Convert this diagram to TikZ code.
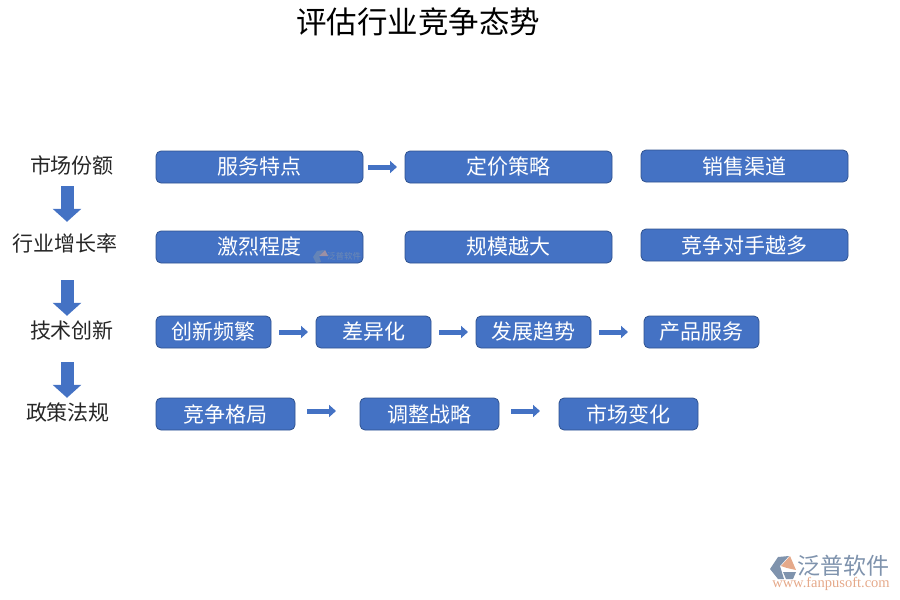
\documentclass[tikz,border=0pt]{standalone}
\usepackage{fontspec}
\setmainfont{Noto Sans CJK SC}
\newfontfamily\latinserif{Liberation Serif}
\usetikzlibrary{arrows.meta,positioning}
\definecolor{boxblue}{HTML}{4472C4}
\definecolor{boxedge}{HTML}{2F528F}
\definecolor{logogray}{HTML}{7F93AD}
\definecolor{logoorange}{HTML}{E5A98A}
\begin{document}
\begin{tikzpicture}[x=1pt,y=-1pt,
  lbl/.style={font=\fontsize{21}{21}\selectfont,text=black!85,inner sep=0pt,minimum height=22pt},
  item/.style={rectangle,rounded corners=5pt,draw=boxedge,fill=boxblue,text=white,line width=0.8pt,inner sep=0pt,outer sep=0pt,minimum height=32pt,font=\fontsize{21}{21}\selectfont},
  wide/.style={item,minimum width=207pt},
  mid/.style={item,minimum width=139pt},
  small/.style={item,minimum width=115pt},
  harr/.style={-{Triangle[length=7pt,width=12pt]},line width=5pt,draw=boxblue},
  varr/.style={-{Triangle[length=13pt,width=28pt]},line width=13pt,draw=boxblue}
]
\useasboundingbox (0,0) rectangle (900,600);
\node[font=\fontsize{30.5}{30.5}\selectfont,text=black,inner sep=0pt] (title) at (418,22) {评估行业竞争态势};
% left column
\coordinate (col) at (67,0);
\node[lbl] (share) at (72,165) {市场份额};
\node[lbl] (growth) at (65,243) {行业增长率};
\node[lbl] (tech) at (72,330) {技术创新};
\node[lbl] (policy) at (68,412) {政策法规};
\draw[varr,shorten <=10pt,shorten >=10pt] (col |- share.south)--(col |- growth.north);
\draw[varr,shorten <=26pt,shorten >=3pt] (col |- growth.south)--(col |- tech.north);
\draw[varr,shorten <=21pt,shorten >=3pt] (col |- tech.south)--(col |- policy.north);
% rows
\node[wide] (serv) at (259.5,167) {服务特点};
\node[wide,right=42pt of serv] (price) {定价策略};
\node[wide,right=29pt of price,yshift=1pt] (chan) {销售渠道};
\node[wide,below=48pt of serv] (fierce) {激烈程度};
\node[wide,below=48pt of price] (scale) {规模越大};
\node[wide,below=47pt of chan] (rival) {竞争对手越多};
\node[small] (inno) at (213.5,332) {创新频繁};
\node[small,right=45pt of inno] (diff) {差异化};
\node[small,right=45pt of diff] (trend) {发展趋势};
\node[small,right=53pt of trend] (prod) {产品服务};
\node[mid] (land) at (225.5,414) {竞争格局};
\node[mid,right=65pt of land] (adjust) {调整战略};
\node[mid,right=60pt of adjust] (change) {市场变化};
\draw[harr,shorten <=5pt,shorten >=8pt] (serv)--(price);
\draw[harr,shorten <=8pt,shorten >=8pt] (inno)--(diff);
\draw[harr,shorten <=8pt,shorten >=8pt] (diff)--(trend);
\draw[harr,shorten <=8pt,shorten >=16pt] (trend)--(prod);
\draw[harr,shorten <=12pt,shorten >=24pt,transform canvas={yshift=3pt}] (land)--(adjust);
\draw[harr,shorten <=12pt,shorten >=19pt,transform canvas={yshift=3pt}] (adjust)--(change);
% faint mark on the box
\fill[logogray,opacity=.55] (313,257)--(317,251)--(324,250)--(319,256)--(321,262)--(316,263)--cycle;
\fill[logoorange,opacity=.55] (319,256)--(325,250)--(328,256)--cycle;
\node[font=\fontsize{8.5}{8.5}\selectfont,text=logogray,opacity=.7,inner sep=0pt] (markfaint) at (344,256) {泛普软件};
% corner mark
\fill[logogray] (770,569)--(778,557)--(789,556)--(780,566)--(784,579)--(778,579)--cycle;
\fill[logoorange] (781,566)--(790,556)--(796,570)--(787,568)--cycle;
\fill[logogray] (783,572)--(796,572)--(793,579)--(786,579)--cycle;
\node[font=\fontsize{23}{23}\selectfont,text=logogray,inner sep=0pt] (markname) at (843,566) {泛普软件};
\node[font=\latinserif\fontsize{14.5}{14.5}\selectfont,text=logoorange,inner sep=0pt] (markurl) at (831,584) {www.fanpusoft.com};
\end{tikzpicture}
\end{document}
